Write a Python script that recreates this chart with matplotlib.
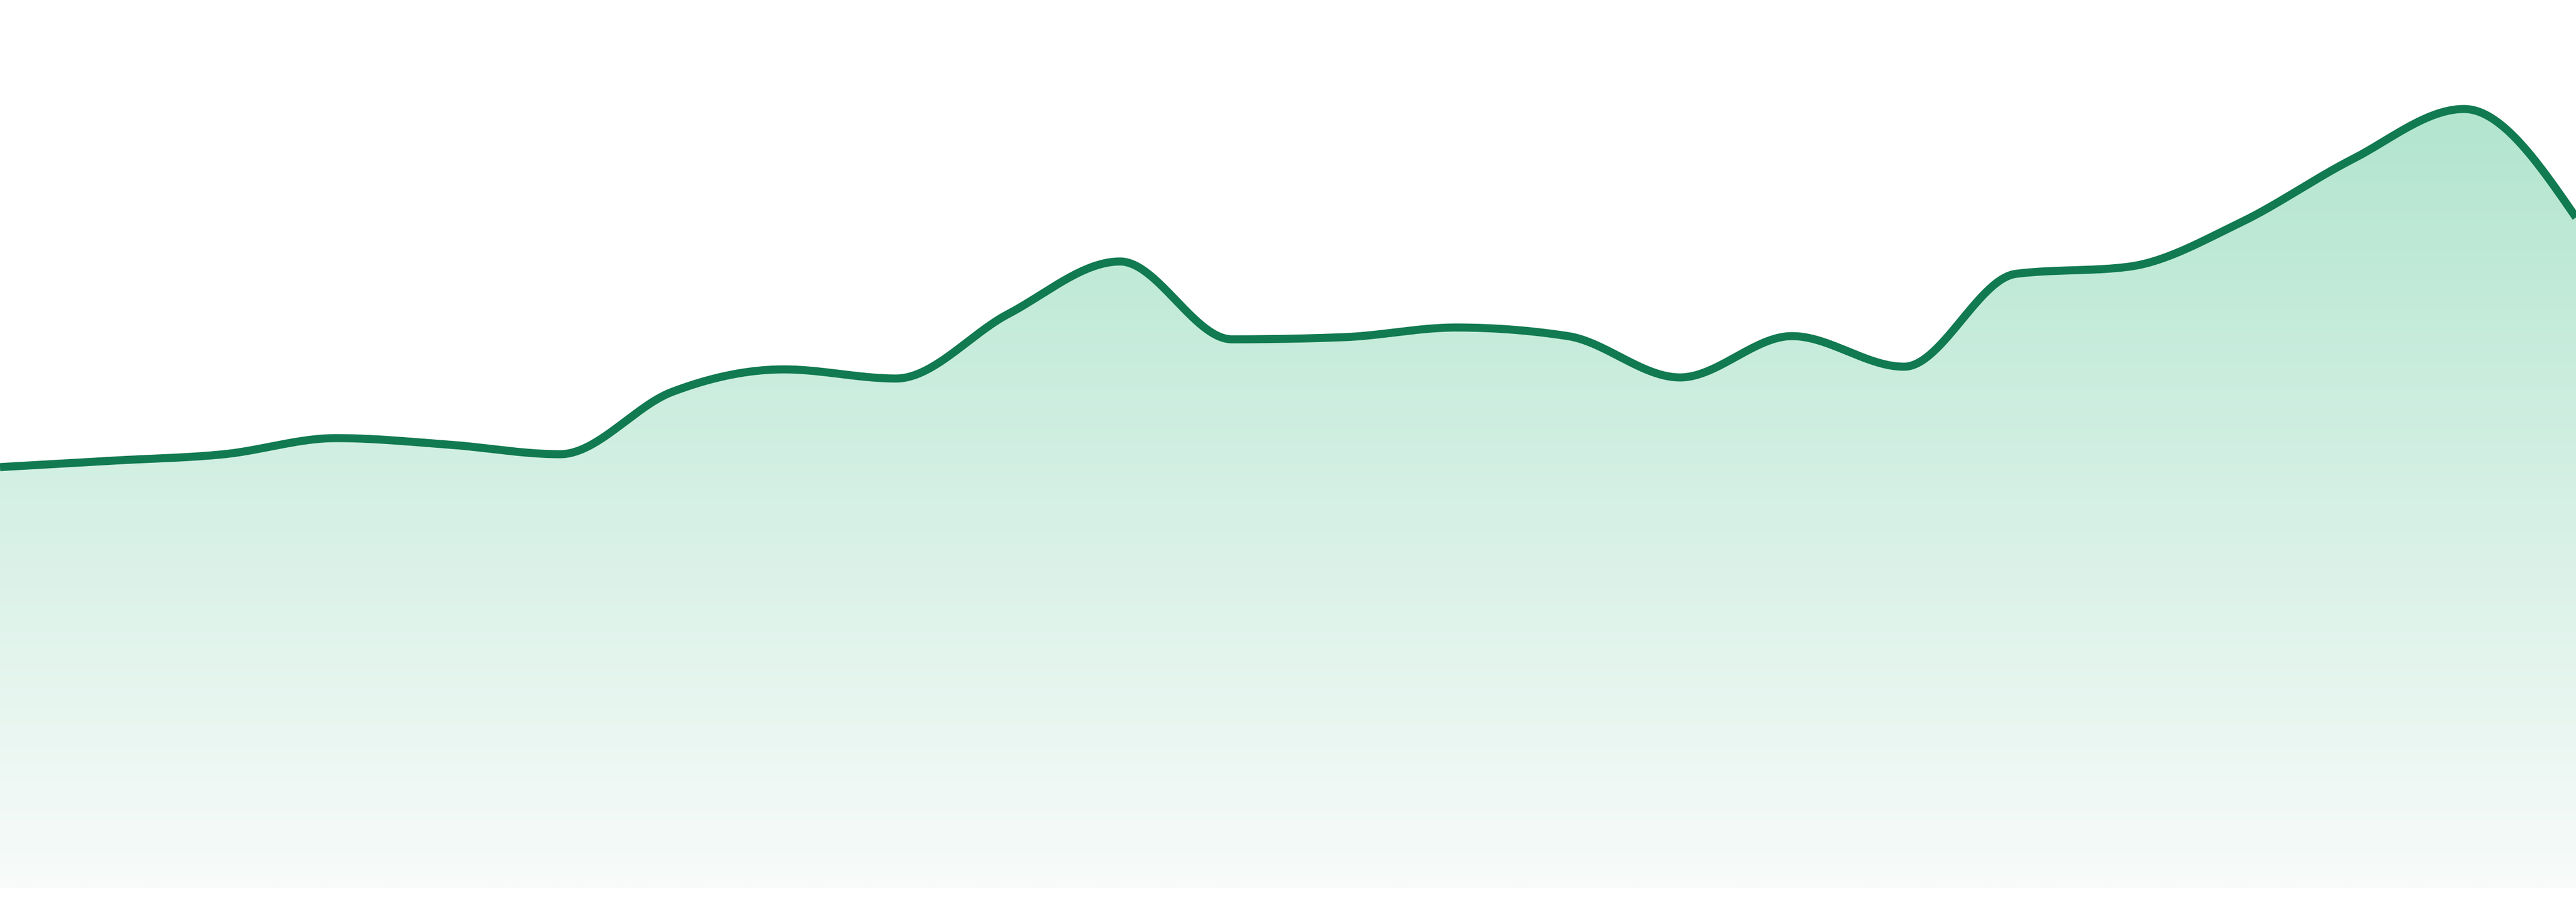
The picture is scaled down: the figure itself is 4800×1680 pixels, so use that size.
import numpy as np
import matplotlib
matplotlib.use("Agg")
import matplotlib.pyplot as plt

# ---- data ----
periods = list(range(24))
values = [784, 796, 808, 838, 826, 808, 924, 966, 949, 1069, 1167, 1022,
          1026, 1044, 1028, 951, 1028, 971, 1144, 1157, 1239, 1357, 1451, 1249]

line_color = "#117a51"
fill_top = "#b2e5cf"
fill_bottom = "#f8fbfa"


def monotone_x(x, y, n=60):
    x = np.asarray(x, float)
    y = np.asarray(y, float)
    h = np.diff(x)
    s = np.diff(y) / h
    m = np.zeros_like(y)
    sgn = lambda v: -1.0 if v < 0 else 1.0
    for i in range(1, len(x) - 1):
        p = (s[i - 1] * h[i] + s[i] * h[i - 1]) / (h[i - 1] + h[i])
        m[i] = (sgn(s[i - 1]) + sgn(s[i])) * min(abs(s[i - 1]), abs(s[i]), 0.5 * abs(p))
    m[0] = (3 * s[0] - m[1]) / 2
    m[-1] = (3 * s[-1] - m[-2]) / 2
    xs, ys = [], []
    for i in range(len(x) - 1):
        t = np.linspace(0, 1, n, endpoint=(i == len(x) - 2))
        h00 = 2 * t**3 - 3 * t**2 + 1
        h10 = t**3 - 2 * t**2 + t
        h01 = -2 * t**3 + 3 * t**2
        h11 = t**3 - t**2
        xs.append(x[i] + t * h[i])
        ys.append(h00 * y[i] + h10 * h[i] * m[i] + h01 * y[i + 1] + h11 * h[i] * m[i + 1])
    return np.concatenate(xs), np.concatenate(ys)


fig = plt.figure(figsize=(48, 16.8), dpi=100)
ax = fig.add_axes([0, 0, 1, 1])
ax.set_xlim(periods[0], periods[-1])
ax.set_ylim(-26, 1654)
ax.axis("off")

xs, ys = monotone_x(periods, values)

# gradient fill clipped to the area
poly = ax.fill_between(xs, ys, 0, color="none", linewidth=0)
top = ys.max()
c1 = np.array(matplotlib.colors.to_rgb(fill_top))
c2 = np.array(matplotlib.colors.to_rgb(fill_bottom))
fr = np.linspace(0, 1, 512)[:, None]
grad = (c1[None, :] * (1 - fr) + c2[None, :] * fr)[:, None, :]
im = ax.imshow(grad, extent=[periods[0], periods[-1], 0, top], aspect="auto",
               origin="upper", interpolation="bilinear", zorder=1)
clip = poly.get_paths()[0]
im.set_clip_path(clip, transform=ax.transData)

ax.plot(xs, ys, color=line_color, linewidth=10.8, solid_capstyle="butt",
        solid_joinstyle="round", zorder=3)

fig.savefig("out.png", dpi=100, facecolor="white")
